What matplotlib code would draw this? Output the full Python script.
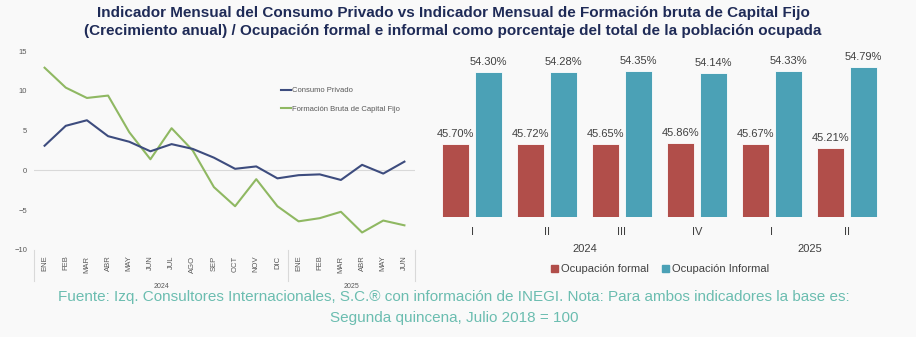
import matplotlib.pyplot as plt
import matplotlib.transforms as mtransforms
from matplotlib.patches import Patch
import numpy as np

plt.rcParams['font.family'] = ['Liberation Sans', 'DejaVu Sans']

# Monthly series (annual growth, %)
months = ["ENE", "FEB", "MAR", "ABR", "MAY", "JUN", "JUL", "AGO", "SEP", "OCT", "NOV", "DIC",
          "ENE", "FEB", "MAR", "ABR", "MAY", "JUN"]
years_line = ["2024", "2025"]
consumo = [3.1, 5.6, 6.3, 4.3, 3.6, 2.4, 3.3, 2.7, 1.6, 0.2, 0.5, -1.0,
           -0.6, -0.5, -1.2, 0.7, -0.4, 1.1]
fbcf = [12.9, 10.4, 9.1, 9.4, 4.8, 1.4, 5.3, 2.5, -2.1, -4.5, -1.1, -4.5,
        -6.4, -6.0, -5.2, -7.8, -6.3, -6.9]

# Quarterly employment shares (% of employed population)
quarters = ["I", "II", "III", "IV", "I", "II"]
years_bar = ["2024", "2025"]
formal = [45.70, 45.72, 45.65, 45.86, 45.67, 45.21]
informal = [54.30, 54.28, 54.35, 54.14, 54.33, 54.79]

W, H = 916, 337
bg = "#f9f9f9"
fig = plt.figure(figsize=(W / 100, H / 100), dpi=100, facecolor=bg)


def fy(py):
    return 1 - py / H


def fx(px):
    return px / W


# Titles
title_color = "#1f2b57"
fig.text(fx(453), fy(13), "Indicador Mensual del Consumo Privado vs Indicador Mensual de Formación bruta de Capital Fijo",
         ha="center", va="center", fontsize=11, fontweight="bold", color=title_color)
fig.text(fx(453), fy(31), "(Crecimiento anual) / Ocupación formal e informal como porcentaje del total de la población ocupada",
         ha="center", va="center", fontsize=11, fontweight="bold", color=title_color)

# ---- Line chart ----
ax1 = fig.add_axes([fx(34), fy(250), fx(415 - 34), (250 - 51) / H])
ax1.set_facecolor(bg)
x = np.arange(len(months))
ax1.axhline(0, color="#d9d9d9", linewidth=0.8, zorder=1)
ax1.plot(x, consumo, color="#3d4c7e", linewidth=1.5, label="Consumo Privado", zorder=3)
ax1.plot(x, fbcf, color="#8fb862", linewidth=1.5, label="Formación Bruta de Capital Fijo", zorder=2)
ax1.set_xlim(-0.5, len(months) - 0.5)
ax1.set_ylim(-10, 15)
ax1.set_yticks([-10, -5, 0, 5, 10, 15])
ax1.set_xticks(x)
ax1.set_xticklabels(months, rotation=90, fontsize=5.5, color="#595959")
ax1.tick_params(axis="x", length=0, pad=4)
ax1.tick_params(axis="y", length=0, labelsize=5.5, labelcolor="#595959", pad=5)
for s in ax1.spines.values():
    s.set_visible(False)

trans = mtransforms.blended_transform_factory(ax1.transData, ax1.transAxes)
for xs in [-0.5, 11.5, 17.5]:
    ax1.plot([xs, xs], [0, -0.155], color="#d9d9d9", linewidth=0.8, transform=trans, clip_on=False)
ax1.text(5.5, -0.165, years_line[0], transform=trans, ha="center", va="top", fontsize=5, color="#595959")
ax1.text(14.5, -0.165, years_line[1], transform=trans, ha="center", va="top", fontsize=5, color="#595959")

leg1 = ax1.legend(loc="upper left", bbox_to_anchor=(0.64, 0.835), frameon=False, fontsize=5.5,
                  handlelength=1.3, handletextpad=0.2, labelspacing=1.5, borderaxespad=0)
for t in leg1.get_texts():
    t.set_color("#595959")

# ---- Bar chart ----
ax2 = fig.add_axes([fx(434.5), fy(217.3), fx(450), (217.3 - 45) / H])
ax2.set_facecolor(bg)
xb = np.arange(len(quarters))
bw = 0.37
off = 0.22
c_formal = "#b14e4a"
c_inf = "#4ba1b6"
ax2.bar(xb - off, formal, width=bw, color=c_formal, edgecolor="white", linewidth=0.6)
ax2.bar(xb + off, informal, width=bw, color=c_inf, edgecolor="white", linewidth=0.6)
ax2.set_xlim(-0.5, len(quarters) - 0.5)
ax2.set_ylim(37, 57.46)
for xi, v in zip(xb - off, formal):
    ax2.text(xi, v + 0.6, f"{v:.2f}%", ha="center", va="bottom", fontsize=8, color="#404040")
for xi, v in zip(xb + off, informal):
    ax2.text(xi, v + 0.6, f"{v:.2f}%", ha="center", va="bottom", fontsize=8, color="#404040")
ax2.set_xticks(xb)
ax2.set_xticklabels(quarters, fontsize=8, color="#404040")
ax2.tick_params(axis="x", length=0, pad=7)
ax2.set_yticks([])
for s in ax2.spines.values():
    s.set_visible(False)

# Year labels centred under each group of quarters
trans2 = mtransforms.blended_transform_factory(ax2.transData, fig.transFigure)
ax2.text(1.5, fy(249), years_bar[0], transform=trans2, ha="center", va="center", fontsize=8, color="#404040")
ax2.text(4.5, fy(249), years_bar[1], transform=trans2, ha="center", va="center", fontsize=8, color="#404040")

fig.legend(handles=[Patch(color=c_formal, label="Ocupación formal"),
                    Patch(color=c_inf, label="Ocupación Informal")],
           loc="center", bbox_to_anchor=(fx(660), fy(269)), ncol=2, frameon=False, fontsize=8,
           handlelength=0.6, handleheight=0.6, handletextpad=0.3, columnspacing=1.2,
           labelcolor="#404040")

# Footnote
note_color = "#6bbdb0"
fig.text(fx(454), fy(297), "Fuente: Izq. Consultores Internacionales, S.C.® con información de INEGI. Nota: Para ambos indicadores la base es:",
         ha="center", va="center", fontsize=11, color=note_color)
fig.text(fx(454), fy(318), "Segunda quincena, Julio 2018 = 100",
         ha="center", va="center", fontsize=11, color=note_color)

fig.savefig("out.png", dpi=100, facecolor=bg)
